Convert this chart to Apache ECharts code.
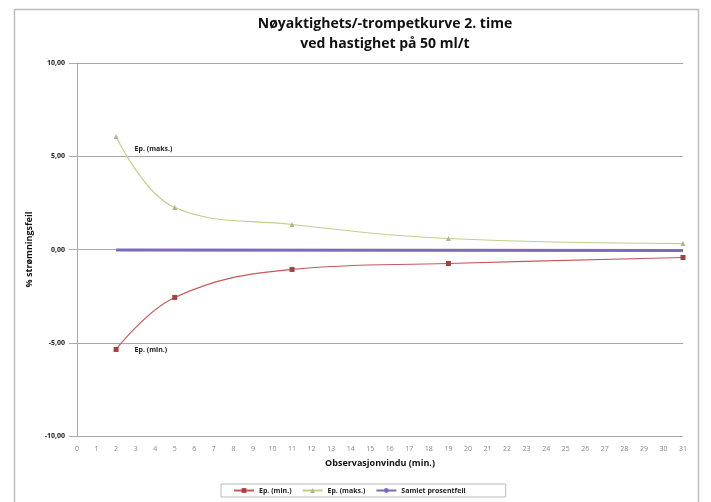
<!DOCTYPE html>
<html><head><meta charset="utf-8">
<script src="https://cdn.jsdelivr.net/npm/echarts@6/dist/echarts.min.js"></script>
<style>html,body{margin:0;padding:0;background:#fff}#c{width:711px;height:502px}</style>
</head><body><div id="c"></div>
<script>
const xMin = [2, 5, 11, 19, 31];
const epMin = [-5.36, -2.57, -1.07, -0.75, -0.43];
const epMaks = [6.06, 2.25, 1.34, 0.59, 0.32];
const samletX = [2, 31];
const samlet = [-0.03, -0.05];
const titleLines = ['Nøyaktighets/-trompetkurve 2. time', 'ved hastighet på 50 ml/t'];

const chart = echarts.init(document.getElementById('c'));
const ff = '"Open Sans", "Noto Sans", sans-serif';
function pts(xs, ys, labelText, offset) {
  return xs.map((x, i) => {
    const d = { value: [x, ys[i]] };
    if (i === 0 && labelText) {
      d.label = { show: true, formatter: labelText, position: 'right', offset: offset,
        fontSize: 7, fontWeight: 'bold', color: '#222', fontFamily: ff,
        backgroundColor: '#fff', padding: [2, 3] };
    }
    return d;
  });
}
chart.setOption({
  animation: false,
  title: { text: titleLines.join('\n'), left: 380, textAlign: 'center', top: 9,
    textStyle: { fontSize: 14, fontWeight: 'bold', color: '#111', fontFamily: ff, lineHeight: 20 } },
  graphic: [{ type: 'rect', shape: { x: 14.5, y: 9.5, width: 684, height: 510 },
    style: { fill: 'none', stroke: '#bdbdbd', lineWidth: 1.5 }, z: -1 }],
  grid: { left: 77, right: 28, top: 63, bottom: 66, containLabel: false },
  legend: { bottom: 5, left: 221, itemWidth: 20, itemHeight: 6, itemGap: 10,
    textStyle: { fontSize: 7, fontWeight: 'bold', color: '#222', fontFamily: ff },
    borderColor: '#bbb', borderWidth: 1, padding: [3, 40, 3, 12],
    data: ['Ep. (min.)', 'Ep. (maks.)', 'Samlet prosentfeil'] },
  xAxis: { type: 'value', min: 0, max: 31, interval: 1,
    name: 'Observasjonvindu (min.)', nameLocation: 'middle', nameGap: 23,
    nameTextStyle: { fontSize: 9, fontWeight: 'bold', color: '#111', fontFamily: ff },
    axisLine: { lineStyle: { color: '#aaa' } }, axisTick: { show: false },
    axisLabel: { fontSize: 7, color: '#888', fontFamily: ff, margin: 9 },
    splitLine: { show: false } },
  yAxis: { type: 'value', min: -10, max: 10, interval: 5,
    name: '% strømningsfeil', nameLocation: 'middle', nameGap: 37,
    nameTextStyle: { fontSize: 9, fontWeight: 'bold', color: '#111', fontFamily: ff },
    axisLine: { show: true, lineStyle: { color: '#aaa' } },
    axisTick: { show: true, length: 8, lineStyle: { color: '#aaa' } },
    axisLabel: { fontSize: 7, fontWeight: 'bold', color: '#222', fontFamily: ff, margin: 12,
      formatter: v => v.toFixed(2).replace('.', ',') },
    splitLine: { lineStyle: { color: '#a8a8a8' } } },
  series: [
    { name: 'Ep. (min.)', type: 'line', smooth: 0.4, data: pts(xMin, epMin, 'Ep. (min.)', [8, 1]),
      symbol: 'rect', symbolSize: 5, color: '#b0403d',
      lineStyle: { color: '#c8585a', width: 1.2 }, itemStyle: { color: '#a8403f' } },
    { name: 'Ep. (maks.)', type: 'line', smooth: 0.4, data: pts(xMin, epMaks, 'Ep. (maks.)', [8, 13]),
      symbol: 'triangle', symbolSize: 5, color: '#b8c98a',
      lineStyle: { color: '#bfd08a', width: 1.2 }, itemStyle: { color: '#a9b98a' } },
    { name: 'Samlet prosentfeil', type: 'line', data: pts(samletX, samlet),
      symbol: 'none', color: '#7e6bb8',
      lineStyle: { color: '#7e6bb8', width: 3 } }
  ]
});
</script></body></html>
